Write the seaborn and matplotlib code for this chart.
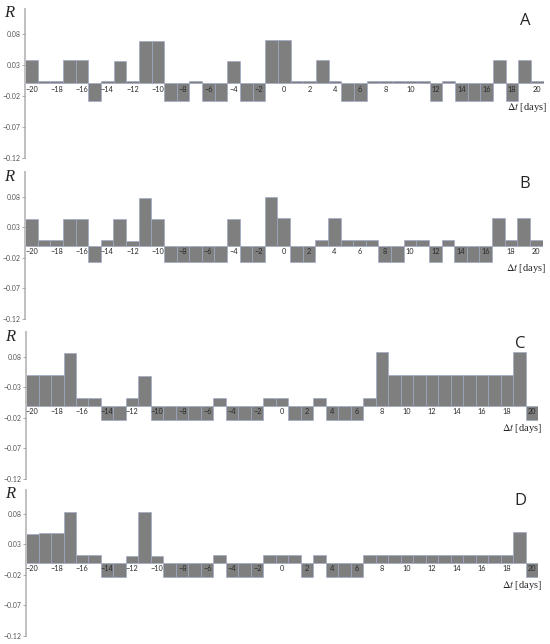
import matplotlib
matplotlib.use("Agg")
import matplotlib.pyplot as plt
import seaborn as sns
import pandas as pd

# lag in days, one bar per day
dt = list(range(-20, 21))

r_a = [0.037, 0.004, 0.004, 0.037, 0.037, -0.029, 0.004, 0.036, 0.004, 0.069,
       0.069, -0.029, -0.029, 0.004, -0.029, -0.029, 0.036, -0.029, -0.029, 0.070,
       0.070, 0.004, 0.004, 0.037, 0.004, -0.029, -0.029, 0.004, 0.004, 0.004,
       0.004, 0.004, -0.029, 0.004, -0.029, -0.029, -0.029, 0.037, -0.029, 0.037,
       0.004]
r_b = [0.043, 0.009, 0.009, 0.044, 0.044, -0.026, 0.009, 0.043, 0.008, 0.078,
       0.043, -0.026, -0.026, -0.026, -0.026, -0.026, 0.043, -0.026, -0.026, 0.079,
       0.045, -0.026, -0.026, 0.009, 0.045, 0.009, 0.009, 0.009, -0.026, -0.026,
       0.009, 0.009, -0.026, 0.009, -0.026, -0.026, -0.026, 0.045, 0.009, 0.046,
       0.009]
r_c = [0.050, 0.050, 0.050, 0.087, 0.013, 0.013, -0.023, -0.023, 0.013, 0.048,
       -0.023, -0.023, -0.023, -0.023, -0.023, 0.013, -0.023, -0.023, -0.023, 0.013,
       0.013, -0.023, -0.023, 0.013, -0.023, -0.023, -0.023, 0.013, 0.088, 0.051,
       0.051, 0.051, 0.051, 0.051, 0.051, 0.051, 0.051, 0.051, 0.051, 0.088,
       -0.023]
r_d = [0.047, 0.048, 0.048, 0.084, 0.012, 0.012, -0.024, -0.024, 0.011, 0.083,
       0.011, -0.024, -0.024, -0.024, -0.024, 0.012, -0.024, -0.024, -0.024, 0.012,
       0.012, 0.012, -0.024, 0.013, -0.024, -0.024, -0.024, 0.013, 0.013, 0.013,
       0.013, 0.013, 0.013, 0.013, 0.013, 0.013, 0.013, 0.013, 0.013, 0.051,
       -0.024]

panel_names = ["A", "B", "C", "D"]
panel_values = [r_a, r_b, r_c, r_d]
x_ticks = list(range(-20, 21, 2))
y_ticks = [0.08, 0.03, -0.02, -0.07, -0.12]
y_labels = ["0.08", "0.03", "\u22120.02", "\u22120.07", "\u22120.12"]
y_labels_c = ["0.08", "\u22120.03", "\u22120.02", "\u22120.07", "\u22120.12"]

sns.set_style("white")
plt.rcParams["mathtext.fontset"] = "stix"
plt.rcParams["font.family"] = ["Lato", "DejaVu Sans"]

fig = plt.figure(figsize=(5.5, 6.44), dpi=100)

# [left, bottom, width, height] for each panel
positions = [
    [0.0455, 0.7547, 0.943, 0.2314],
    [0.0455, 0.5047, 0.941, 0.2276],
    [0.0473, 0.2562, 0.9315, 0.2276],
    [0.0473, 0.0129, 0.9315, 0.2267],
]

for name, vals, pos in zip(panel_names, panel_values, positions):
    ax = fig.add_axes(pos)
    df = pd.DataFrame({"dt": dt, "R": vals})
    sns.barplot(data=df, x="dt", y="R", native_scale=True, width=1,
                color="#7f7f7f", saturation=1, edgecolor="#9ea9c6",
                linewidth=0.45, ax=ax)

    ax.set_xlim(-20.5, 20.5)
    ax.set_ylim(-0.12, 0.12)
    ax.set_xlabel("")
    ax.set_ylabel("")
    ax.set_axisbelow(False)

    # x labels sit right under the zero line, on top of the bars
    ax.spines["bottom"].set_position(("data", 0))
    ax.spines["bottom"].set_visible(False)
    ax.spines["top"].set_visible(False)
    ax.spines["right"].set_visible(False)
    ax.spines["left"].set_color("#c0c0c0")
    ax.spines["left"].set_linewidth(1.4)

    ax.set_xticks(x_ticks)
    ax.set_xticklabels([str(t).replace("-", "\u2212") for t in x_ticks])
    ax.tick_params(axis="x", length=0, pad=1.5, labelsize=5.3, labelcolor="#2a2a2a")

    ax.set_yticks(y_ticks)
    ax.set_yticklabels(y_labels_c if name == "C" else y_labels)
    ax.tick_params(axis="y", length=2, width=0.6, color="#a0a0a0", pad=1,
                   labelsize=5, labelcolor="#555555", left=True)

    ax.text(-0.031, 0.97, "R", transform=ax.transAxes, ha="center", va="center",
            fontsize=12, fontstyle="italic", family="Liberation Serif")
    ax.text(20.8, -0.038, r"$\Delta t$ [days]", ha="right", va="center",
            fontsize=7.5, family="Liberation Serif")
    ax.text(0.965, 0.92, name, transform=ax.transAxes, ha="center", va="center",
            fontsize=12, family="Open Sans")

fig.savefig("out.png", dpi=100)
